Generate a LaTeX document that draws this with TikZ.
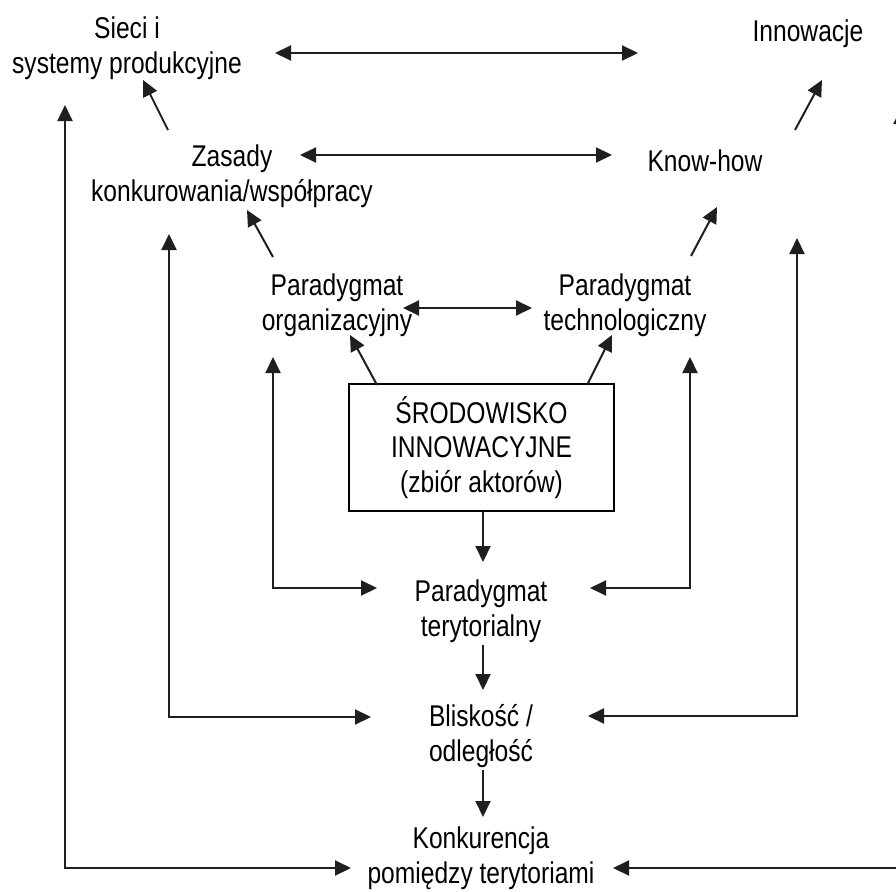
\documentclass[tikz,border=0pt]{standalone}
\usepackage{fontspec}
\setmainfont{Liberation Sans}[FakeStretch=0.82]
\usetikzlibrary{arrows.meta}
\begin{document}
\begin{tikzpicture}[x=1pt,y=-1pt,
  lbl/.style={align=center,inner sep=0pt,font=\fontsize{30}{34.5}\selectfont},
  link/.style={line width=2pt,draw=black!88,
    arrows={-Triangle[length=16pt,width=15pt]}},
  both/.style={link,arrows={Triangle[length=16pt,width=15pt]-Triangle[length=16pt,width=15pt]}}]
\useasboundingbox (0,0) rectangle (896,891);
\clip (0,0) rectangle (896,891);

% labels
\node[lbl] (sieci) at (127,48) {Sieci i\\systemy produkcyjne};
\node[lbl] (innov) at (808,34) {Innowacje};
\node[lbl] (zasady) at (232,176) {Zasady\\konkurowania/współpracy};
\node[lbl] (know) at (705,161) {Know-how};
\node[lbl] (porg) at (337,305) {Paradygmat\\organizacyjny};
\node[lbl] (ptech) at (625,305) {Paradygmat\\technologiczny};
\node[lbl,draw,line width=2pt,minimum width=265,minimum height=127]
  (milieu) at (481.5,447.5) {ŚRODOWISKO\\INNOWACYJNE\\(zbiór aktorów)};
\node[lbl] (pter) at (481,611) {Paradygmat\\terytorialny};
\node[lbl] (blisk) at (481,736) {Bliskość /\\odległość};
\node[lbl] (konk) at (481,858) {Konkurencja\\pomiędzy terytoriami};

% connector end points
\coordinate (a1) at (275,53);   \coordinate (a2) at (638,53);
\coordinate (b1) at (300,155);  \coordinate (b2) at (612,155);
\coordinate (c1) at (403,308);  \coordinate (c2) at (532,308);
\coordinate (d1) at (168,130);  \coordinate (d2) at (143,80);
\coordinate (e1) at (795,130);  \coordinate (e2) at (822,80);
\coordinate (f1) at (273,257);  \coordinate (f2) at (247,210);
\coordinate (g1) at (691,256);  \coordinate (g2) at (717,207);
\coordinate (h1) at (377,385);  \coordinate (h2) at (350,335);
\coordinate (i1) at (587,385);  \coordinate (i2) at (612,335);
\coordinate (j1) at (483,511);  \coordinate (j2) at (483,562);
\coordinate (k1) at (483,645);  \coordinate (k2) at (483,690);
\coordinate (l1) at (483,770);  \coordinate (l2) at (483,817);

% horizontal double arrows
\draw[both] (a1) -- (a2);
\draw[both] (b1) -- (b2);
\draw[both] (c1) -- (c2);

% upward diagonal arrows
\draw[link] (d1) -- (d2);
\draw[link] (e1) -- (e2);
\draw[link] (f1) -- (f2);
\draw[link] (g1) -- (g2);
\draw[link] (h1) -- (h2);
\draw[link] (i1) -- (i2);

% central column
\draw[link] (j1) -- (j2);
\draw[link] (k1) -- (k2);
\draw[link] (l1) -- (l2);

% feedback loops
\coordinate (m1) at (65,105);   \coordinate (m2) at (351,868);
\draw[both] (m1) |- (m2);
\coordinate (n1) at (169,234);  \coordinate (n2) at (371,717);
\draw[both] (n1) |- (n2);
\coordinate (o1) at (273,357);  \coordinate (o2) at (377,588);
\draw[both] (o1) |- (o2);
\coordinate (p1) at (690,357);  \coordinate (p2) at (590,588);
\draw[both] (p1) |- (p2);
\coordinate (q1) at (797,238);  \coordinate (q2) at (588,716);
\draw[both] (q1) |- (q2);
\coordinate (r1) at (901,108);  \coordinate (r2) at (613,868);
\draw[both] (r1) |- (r2);
\end{tikzpicture}
\end{document}
